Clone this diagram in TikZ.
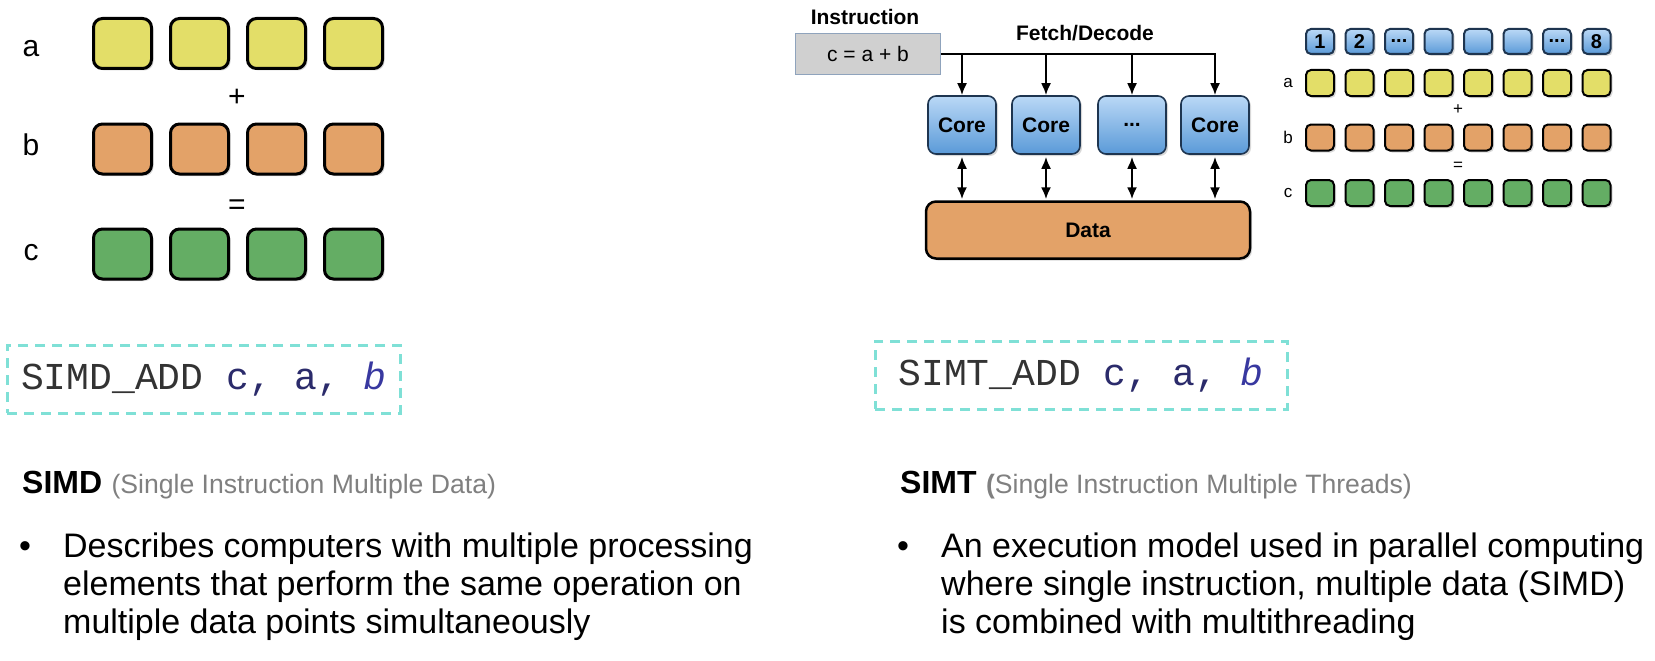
\documentclass[tikz,border=0pt]{standalone}
\usepackage{fontspec}
\setmainfont{Liberation Sans}
\setmonofont{Liberation Mono}
\usetikzlibrary{positioning, shadows, arrows.meta}
\definecolor{ylw}{HTML}{E3DE68}
\definecolor{org}{HTML}{E3A268}
\definecolor{grn}{HTML}{64AD64}
\definecolor{blutop}{HTML}{BAD8F6}
\definecolor{blubot}{HTML}{5A9AD8}
\definecolor{coreline}{HTML}{1E3550}
\definecolor{cyanline}{HTML}{7FE0D6}
\definecolor{instrfill}{HTML}{D0D0D0}
\definecolor{instrline}{HTML}{8FA3BC}
\definecolor{subgray}{HTML}{808080}
\definecolor{regc}{HTML}{2B2B6B}
\definecolor{regb}{HTML}{3838A0}
\newcommand\thrdots{...}
\tikzset{
  shd/.style={drop shadow={opacity=.3, shadow xshift=2pt, shadow yshift=-2pt}},
  lbox/.style={draw, line width=3pt, rounded corners=9pt, minimum width=58pt, minimum height=50pt, shd},
  sbox/.style={draw, line width=2pt, rounded corners=5pt, minimum width=28pt, minimum height=26pt, inner sep=0pt, shd,
    font=\bfseries\fontsize{20pt}{22pt}\selectfont},
  core/.style={draw=coreline, line width=1.6pt, rounded corners=8pt, top color=blutop, bottom color=blubot,
    minimum width=68pt, minimum height=58pt, font=\bfseries\fontsize{21pt}{24pt}\selectfont, shd},
  big/.style={font=\fontsize{30pt}{34pt}\selectfont, inner sep=0pt},
  small/.style={font=\fontsize{17pt}{19pt}\selectfont, inner sep=0pt},
  bold/.style={font=\bfseries\fontsize{21pt}{24pt}\selectfont, inner sep=0pt},
  dashbox/.style={draw=cyanline, line width=3pt, dash pattern=on 10pt off 7pt, minimum height=68pt,
    font=\ttfamily\fontsize{38pt}{40pt}\selectfont, text=black!80},
  head/.style={font=\bfseries\fontsize{32pt}{36pt}\selectfont, inner sep=0pt, anchor=base west},
  sub/.style={font=\fontsize{26.6pt}{30pt}\selectfont, text=subgray, inner sep=0pt, anchor=base west},
  body/.style={font=\fontsize{34pt}{38pt}\selectfont, inner sep=0pt, anchor=base west}
}
\begin{document}
\begin{tikzpicture}[>={Latex[length=12pt,width=10pt]}, x=1pt, y=-1pt]
\useasboundingbox[fill=white] (0,0) rectangle (1655,661);

% SIMD: a + b = c, four lanes
\foreach \r/\c/\y/\b in {a/ylw/43.5/57, b/org/149/155, c/grn/254/260}{
  \node[big, anchor=base] (lab\r) at (31,\b) {\r};
  \foreach \i in {1,...,4}
    \node[lbox, fill=\c] (\r\i) at ({122.5+77*(\i-1)},\y) {};
}
\node[big] (plus) at (237,98) {+};
\node[big] (eq) at (237,207) {=};

% SIMT: instruction fetched to all cores
\node[bold] (instrlab) at (865,17) {Instruction};
\node[draw=instrline, fill=instrfill, line width=1pt, minimum width=145pt, minimum height=41pt,
  font=\fontsize{21pt}{24pt}\selectfont] (instr) at (868,54) {c = a + b};
\node[bold] (fetch) at (1085,33) {Fetch/Decode};
\foreach \i/\t/\x in {1/Core/962, 2/Core/1046, 3/\thrdots/1132, 4/Core/1215}
  \node[core] (core\i) at (\x,125) {\t};
\node[draw, line width=2.5pt, rounded corners=10pt, fill=org, minimum width=324pt, minimum height=57pt,
  font=\bfseries\fontsize{21pt}{24pt}\selectfont, shd] (data) at (1088,230) {Data};
\draw[line width=2pt, ->] (instr.east) -| (core4.north);
\foreach \i in {1,2,3}
  \draw[line width=2pt, ->] (core\i.north |- instr.east) -- (core\i.north);
\foreach \i in {1,...,4}
  \draw[line width=2pt, <->] ([yshift=-2pt]core\i.south) -- ([yshift=1pt]core\i.south |- data.north);

% SIMT lanes
\foreach \i/\t in {1/1, 2/2, 3/\thrdots, 4/{}, 5/{}, 6/{}, 7/\thrdots, 8/8}
  \node[sbox, top color=blutop, bottom color=blubot, draw=coreline, minimum height=25pt] (th\i) at ({1320+39.5*(\i-1)},41.5) {\t};
\foreach \r/\c/\y in {a/ylw/83, b/org/137.5, c/grn/193}{
  \node[small] (sl\r) at (1288,\y) {\r};
  \foreach \i in {1,...,8}
    \node[sbox, fill=\c] (s\r\i) at ({1320+39.5*(\i-1)},\y) {};
}
\node[small] (splus) at (1458,110) {+};
\node[small] (seq) at (1458,166) {=};

% instructions
\node[dashbox, minimum width=393pt] (simdcode) at (203.5,379)
  {SIMD\_ADD {\color{regc}c, a,} {\color{regb}\itshape b}};
\node[dashbox, minimum width=412pt] (simtcode) at (1081,375)
  {SIMT\_ADD {\color{regc}c, a,} {\color{regb}\itshape b}\hspace{14pt}};

% text
\node[head] (simdh) at (22,493) {SIMD};
\node[sub] (simdsub) at ([xshift=9pt]simdh.base east) {(Single Instruction Multiple Data)};
\node[head] (simth) at (900,493) {SIMT};
\node[sub] (simtsub) at ([xshift=9pt]simth.base east) {{\bfseries(}Single Instruction Multiple Threads)};
\node[body, anchor=base] (simdbul) at (25,557) {•};
\node[body, anchor=base] (simtbul) at (903,557) {•};
\foreach \t [count=\i] in {Describes computers with multiple processing,
  elements that perform the same operation on, multiple data points simultaneously}
  \node[body] (simdl\i) at (63,{557+38*(\i-1)}) {\t};
\foreach \t [count=\i] in {An execution model used in parallel computing,
  {where single instruction, multiple data (SIMD)}, is combined with multithreading}
  \node[body] (simtl\i) at (941,{557+38*(\i-1)}) {\t};

\end{tikzpicture}
\end{document}
